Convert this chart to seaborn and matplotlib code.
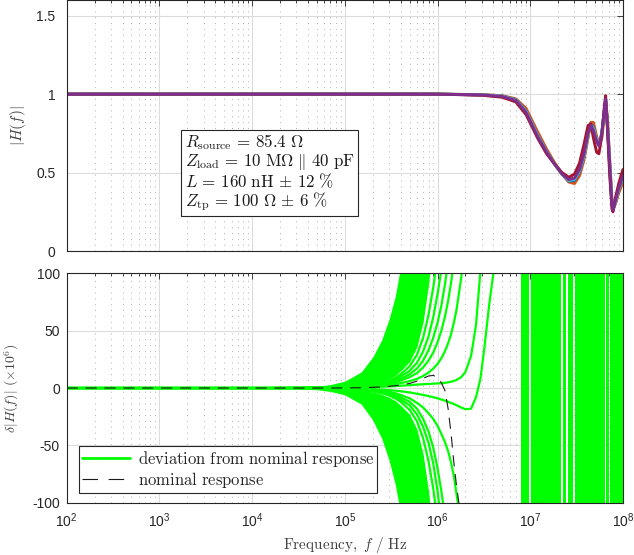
import numpy as np
import pandas as pd
import matplotlib
matplotlib.use('Agg')
import matplotlib.pyplot as plt
from matplotlib.lines import Line2D
from matplotlib.ticker import LogLocator, NullFormatter
import seaborn as sns

sns.set_theme(style='white')
plt.rcParams['font.family'] = ['Liberation Sans', 'DejaVu Sans']
plt.rcParams['mathtext.fontset'] = 'cm'
plt.rcParams['axes.unicode_minus'] = False

# ---- top panel: |H(f)| for the sampled cable parameters
freq_top = [1e2, 1e5, 1e6, 3e6, 5e6, 7e6, 9e6, 1.2e7, 1.5e7, 1.8e7, 2.2e7, 2.6e7, 3e7, 3.4e7, 3.8e7,
            4.2e7, 4.5e7, 4.8e7, 5.2e7, 5.5e7, 5.9e7, 6.3e7, 6.5e7, 6.8e7, 7.2e7, 7.6e7, 7.8e7, 8.3e7, 9e7, 1e8]
h_orange = [1, 1, 1, 0.997, 0.99, 0.97, 0.91, 0.76, 0.65, 0.57, 0.49, 0.44, 0.43, 0.48, 0.58,
            0.72, 0.82, 0.82, 0.73, 0.68, 0.72, 0.86, 0.95, 0.85, 0.58, 0.33, 0.27, 0.30, 0.37, 0.44]
h_blue = [1, 1, 1, 0.996, 0.987, 0.965, 0.895, 0.74, 0.635, 0.56, 0.49, 0.445, 0.45, 0.505, 0.60,
          0.74, 0.81, 0.79, 0.71, 0.675, 0.74, 0.89, 0.965, 0.81, 0.54, 0.31, 0.26, 0.31, 0.39, 0.47]
h_yellow = [1, 1, 1, 0.995, 0.985, 0.962, 0.89, 0.735, 0.63, 0.56, 0.49, 0.45, 0.46, 0.515, 0.61,
            0.74, 0.80, 0.78, 0.71, 0.68, 0.74, 0.89, 0.96, 0.80, 0.53, 0.30, 0.26, 0.315, 0.395, 0.47]
h_green = [1, 1, 1, 0.995, 0.985, 0.96, 0.887, 0.732, 0.63, 0.56, 0.49, 0.452, 0.462, 0.517, 0.615,
           0.745, 0.80, 0.775, 0.705, 0.675, 0.745, 0.895, 0.965, 0.80, 0.525, 0.30, 0.26, 0.318, 0.398, 0.475]
h_cyan = [1, 1, 1, 0.995, 0.986, 0.962, 0.889, 0.735, 0.632, 0.56, 0.49, 0.45, 0.458, 0.512, 0.61,
          0.745, 0.805, 0.78, 0.705, 0.672, 0.745, 0.895, 0.965, 0.805, 0.53, 0.305, 0.26, 0.315, 0.395, 0.475]
h_darkred = [1, 1, 1, 0.993, 0.98, 0.95, 0.87, 0.72, 0.62, 0.56, 0.50, 0.47, 0.49, 0.56, 0.68,
             0.80, 0.81, 0.72, 0.63, 0.62, 0.73, 0.92, 0.99, 0.78, 0.48, 0.27, 0.25, 0.34, 0.43, 0.52]
h_purple = [1, 1, 1, 0.995, 0.985, 0.96, 0.885, 0.73, 0.63, 0.56, 0.49, 0.455, 0.465, 0.52, 0.62,
            0.75, 0.80, 0.77, 0.70, 0.67, 0.75, 0.90, 0.97, 0.80, 0.55, 0.30, 0.26, 0.32, 0.40, 0.48]

# ---- bottom panel: deviation from nominal (x1e6), each list is a prefix of freq_dev
freq_dev = [1e2, 1e4, 3e4, 5e4, 7e4, 1e5, 1.5e5, 2e5, 2.5e5, 3e5, 3.5e5, 4e5, 5e5, 6e5, 7e5, 8e5, 9e5,
            1e6, 1.1e6, 1.2e6, 1.3e6, 1.4e6, 1.5e6, 1.6e6, 1.8e6, 2e6, 2.3e6, 2.6e6, 2.9e6, 3.2e6, 3.6e6, 4e6, 4.5e6]
# dense part of the fans (outer / inner edge)
up_outer = [0, 0.1, 0.6, 1.5, 3, 6, 14, 27, 42, 60, 80, 106, 300, 300, 300, 300, 300]
up_inner = [0, 0, 0.2, 0.5, 0.8, 1.2, 2, 3.5, 5.5, 8, 11, 15, 23, 36, 58, 90, 130]
down_outer = [0, -0.1, -0.6, -1.5, -3, -6, -14, -28, -44, -63, -84, -110, -300, -300, -300, -300, -300]
down_inner = [0, 0, -0.2, -0.5, -0.8, -1.2, -2, -3.5, -5.5, -8, -11, -15, -23, -36, -58, -90, -130]
# separate deviation curves
dev_ua = [0, 0, 0.2, 0.4, 0.7, 1, 1.8, 3, 4.5, 6.5, 9, 12, 19, 29, 44, 64, 88, 115]
dev_ub = [0, 0, 0.2, 0.4, 0.6, 0.9, 1.6, 2.6, 4, 5.5, 7.5, 10, 15, 22, 32, 45, 62, 82, 103]
dev_uc = [0, 0, 0.1, 0.3, 0.5, 0.8, 1.4, 2.2, 3.2, 4.5, 6, 8, 12, 17, 24, 33, 44, 57, 72, 90, 110]
dev_ud = [0, 0, 0.1, 0.3, 0.5, 0.7, 1.2, 1.9, 2.8, 3.8, 5, 6.5, 9.5, 13, 18, 24, 31, 40, 50, 62, 76, 92, 110]
dev_ue = [0, 0, 0.1, 0.2, 0.4, 0.6, 1, 1.5, 2, 2.7, 3.4, 4.2, 6, 8, 10.5, 13.5, 17, 21, 26, 32, 39, 47,
          57, 68, 96, 130]
dev_uf = [0, 0, 0, 0.1, 0.2, 0.3, 0.5, 0.8, 1.1, 1.4, 1.7, 2, 2.5, 3, 3.3, 3.6, 3.8, 4, 4.2, 4.5, 5, 5.5,
          6.2, 7, 9.5, 14, 28, 55, 102]
dev_dip = [0, 0, 0, -0.1, -0.2, -0.3, -0.6, -1, -1.4, -1.8, -2.3, -2.8, -3.8, -5, -6, -7, -8, -9, -10,
           -11, -12, -13, -14, -15, -17, -18.5, -18, -8, 8, 35, 72, 100, 150]
dev_da = [0, 0, -0.2, -0.4, -0.7, -1, -1.8, -3, -4.5, -6.5, -9, -12, -19, -29, -44, -64, -88, -115]
dev_db = [0, 0, -0.2, -0.4, -0.6, -0.9, -1.6, -2.6, -4, -5.5, -7.5, -10, -15, -23, -34, -48, -66, -90, -118]
dev_dc = [0, 0, -0.1, -0.3, -0.5, -0.8, -1.4, -2.2, -3.2, -4.5, -6, -8, -12, -18, -27, -38, -52, -70, -90, -112]
dev_dd = [0, 0, -0.1, -0.2, -0.4, -0.6, -1, -1.6, -2.4, -3.3, -4.5, -6, -9, -13, -17, -22, -27, -33, -40,
          -47, -55, -65, -77, -92, -120]
nominal = [0, 0, 0, 0, 0, 0.1, 0.3, 0.6, 1, 1.5, 2, 2.6, 4, 6, 8.5, 10.5, 11, 9, 4.5, -2, -18, -40,
           -65, -85, -115]
# above ~8 MHz the deviation curves swing far past +-100
hf_bands = [(7.9e6, 9.7e6), (1.01e7, 2.17e7), (2.27e7, 2.42e7), (2.55e7, 2.92e7), (3.05e7, 6.4e7),
            (6.6e7, 7.05e7), (7.3e7, 1e8)]
decade_ticks = [1e2, 1e3, 1e4, 1e5, 1e6, 1e7, 1e8]

matlab_colors = {'orange': '#D95319', 'blue': '#0072BD', 'yellow': '#EDB120', 'green': '#77AC30',
                 'cyan': '#4DBEEE', 'darkred': '#A2142F', 'purple': '#7E2F8E'}
top_curves = {'orange': h_orange, 'blue': h_blue, 'yellow': h_yellow, 'green': h_green,
              'cyan': h_cyan, 'darkred': h_darkred, 'purple': h_purple}
top_df = pd.concat([pd.DataFrame({'f': freq_top, 'H': v, 'run': k}) for k, v in top_curves.items()])

dev_curves = [dev_ua, dev_ub, dev_uc, dev_ud, dev_ue, dev_uf, dev_dip, dev_da, dev_db, dev_dc, dev_dd]
dev_df = pd.concat([pd.DataFrame({'f': freq_dev[:len(v)], 'dev': v, 'curve': i})
                    for i, v in enumerate(dev_curves)])

axcol = '#262626'
labcol = '#404040'
fig = plt.figure(figsize=(6.34, 5.55), dpi=100)
ax1 = fig.add_axes([0.1052, 0.5477, 0.8774, 0.4523])
ax2 = fig.add_axes([0.1052, 0.0942, 0.8774, 0.4133])

for ax in (ax1, ax2):
    ax.set_xscale('log')

sns.lineplot(data=top_df, x='f', y='H', hue='run', hue_order=list(top_curves), palette=matlab_colors,
             estimator=None, sort=False, legend=False, linewidth=2.1, ax=ax1)

green = '#00ff00'
for lo, hi in hf_bands:
    ax2.axvspan(lo, hi, color=green, lw=0)
ax2.fill_between(freq_dev[:len(up_outer)], up_outer, up_inner, color=green, lw=0)
ax2.fill_between(freq_dev[:len(down_outer)], down_outer, down_inner, color=green, lw=0)
sns.lineplot(data=dev_df, x='f', y='dev', units='curve', estimator=None, sort=False, color=green,
             linewidth=1.6, legend=False, ax=ax2)
ax2.plot(freq_dev[:len(nominal)], nominal, color='k', lw=0.8, linestyle=(0, (10, 7)))

ax1.set_ylim(0, 1.6)
ax1.set_yticks([0, 0.5, 1, 1.5])
ax1.set_yticklabels(['0', '0.5', '1', '1.5'])
ax2.set_ylim(-100, 100)
ax2.set_yticks([-100, -50, 0, 50, 100])
ax2.set_yticklabels(['-100', '-50', '0', '50', '100'])

for ax in (ax1, ax2):
    ax.set_xticks(decade_ticks)
    ax.set_xlim(1e2, 1e8)
    ax.xaxis.set_minor_locator(LogLocator(base=10, subs=np.arange(2, 10), numticks=20))
    ax.xaxis.set_minor_formatter(NullFormatter())
    ax.set_axisbelow(True)
    ax.grid(which='major', color='#dcdcdc', lw=0.8)
    ax.grid(which='minor', axis='x', color='#b0b0b0', lw=0.7, linestyle=(0, (1, 5)))
    ax.tick_params(which='both', direction='in', top=True, right=True, color=axcol,
                   labelcolor=axcol, labelsize=10, width=0.6)
    ax.tick_params(which='major', length=4)
    ax.tick_params(which='minor', length=2.5)
    for s in ax.spines.values():
        s.set_color(axcol)
        s.set_linewidth(0.8)
    ax.set_xlabel('')

ax1.tick_params(axis='y', pad=8)
ax2.tick_params(axis='y', pad=5)
ax2.tick_params(axis='x', pad=6)
ax1.xaxis.set_major_formatter(NullFormatter())
ax2.set_xticklabels([r'$\mathregular{10^{%d}}$' % e for e in range(2, 9)])
ax1.set_ylabel(r'$|H(f)|$', fontsize=11, color=labcol)
ax2.set_ylabel(r'$\delta|H(f)|\ (\times 10^6)$', fontsize=10, color=labcol)
ax1.yaxis.set_label_coords(-0.069, 0.5)
ax2.yaxis.set_label_coords(-0.083, 0.5)
ax2.set_xlabel(r'$\mathrm{Frequency,}\ f\ /\ \mathrm{Hz}$', fontsize=11, color=labcol, labelpad=4)

box_text = '\n'.join([r'$R_\mathrm{source}\,=\,85.4\ \Omega$',
                      r'$Z_\mathrm{load}\,=\,10\ \mathrm{M}\Omega\ \|\ 40\ \mathrm{pF}$',
                      r'$L\,=\,160\ \mathrm{nH}\,\pm\,12\ \%$',
                      r'$Z_\mathrm{tp}\,=\,100\ \Omega\,\pm\,6\ \%$'])
ax1.text(0.212, 0.475, box_text, transform=ax1.transAxes, ha='left', va='top', fontsize=12.2,
         linespacing=1.0, color='k',
         bbox=dict(boxstyle='square,pad=0.2', fc='white', ec=axcol, lw=0.8))

handles = [Line2D([], [], color=green, lw=2),
           Line2D([], [], color='k', lw=0.8, linestyle=(0, (14, 9.5)))]
leg = ax2.legend(handles, ['deviation from nominal response', 'nominal response'],
                 loc='lower left', bbox_to_anchor=(0.0227, 0.0436), borderaxespad=0,
                 prop={'size': 12}, fancybox=False, framealpha=1,
                 edgecolor=axcol, handlelength=2.9, handletextpad=0.45, labelspacing=0.1,
                 borderpad=0.15)
leg.get_frame().set_linewidth(0.8)
for t in leg.get_texts():
    t.set_text(r'$\mathrm{' + t.get_text().replace(' ', r'\ ') + '}$')

fig.savefig('out.png', dpi=100)
